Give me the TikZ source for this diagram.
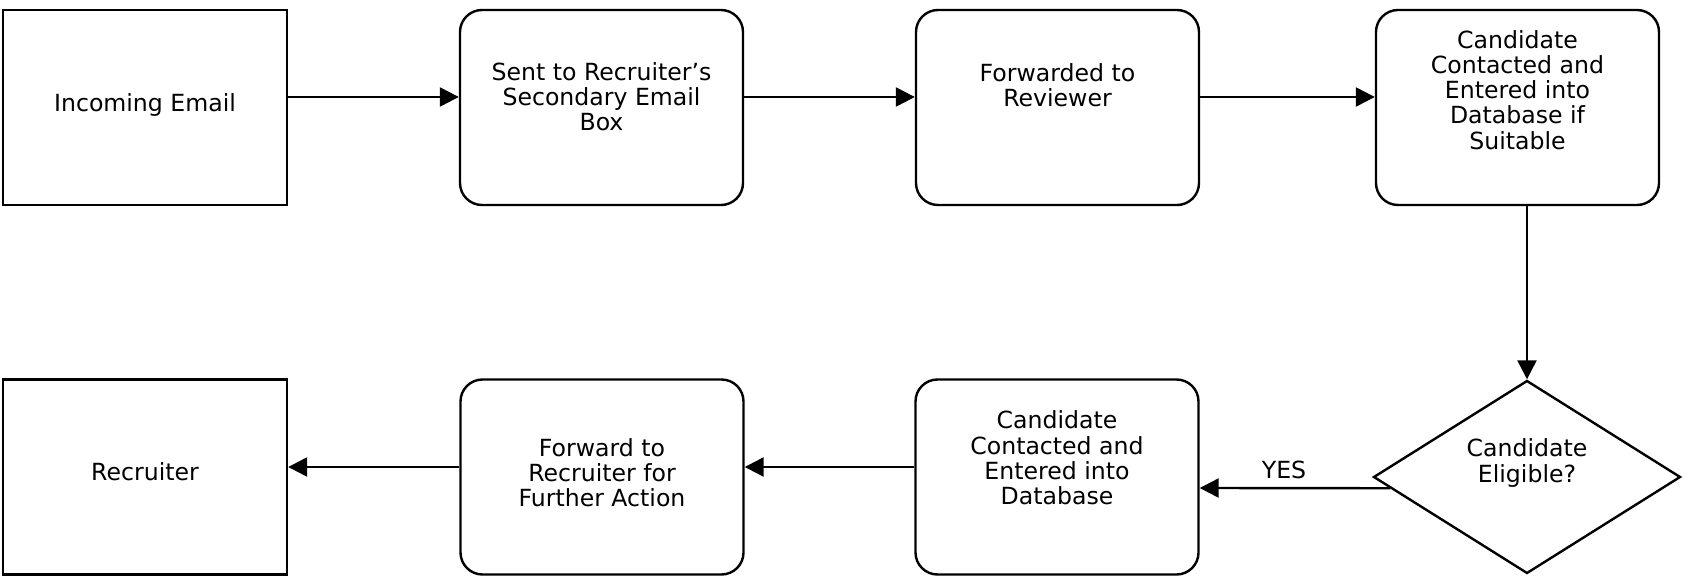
\documentclass[tikz,border=0pt]{standalone}
\usepackage{fontspec}
\setmainfont{DejaVu Sans}
\usetikzlibrary{shapes.geometric,arrows.meta,calc}
\tikzset{
  sqbox/.style={draw, line width=1.2pt, minimum width=142pt, minimum height=97.5pt, inner sep=0pt},
  rbox/.style={draw, line width=1.2pt, rounded corners=11pt, minimum width=141.5pt, minimum height=97.5pt, inner sep=0pt},
  decide/.style={draw, line width=1.2pt, diamond, minimum width=153.5pt, minimum height=96.5pt, inner sep=0pt},
  txt/.style={align=center, inner sep=0pt, font=\fontsize{11.8pt}{12.6pt}\selectfont},
  arr/.style={line width=1.2pt, -{Triangle[length=9.5pt,width=9.5pt]}},
}
\begin{document}
\begin{tikzpicture}[x=0.5pt,y=-0.5pt]
\useasboundingbox (0,0) rectangle (1693,577);
% top row
\node[sqbox] (b1) at (145,107.5) {};
\node[rbox] (b2) at (601.5,107.5) {};
\node[rbox] (b3) at (1057.5,107.5) {};
\node[rbox] (b4) at (1517.5,107.5) {};
% bottom row
\node[sqbox] (r1) at (145,477) {};
\node[rbox] (r2) at (602,477) {};
\node[rbox] (r3) at (1057,477) {};
\node[decide] (dia) at (1527,477) {};
% texts
\node[txt] (t1) at (145,105) {Incoming Email};
\node[txt] (t2) at (601.5,97) {Sent to Recruiter’s\\Secondary Email\\Box};
\node[txt] (t3) at (1057.5,85) {Forwarded to\\Reviewer};
\node[txt] (t4) at (1517.5,90) {Candidate\\Contacted and\\Entered into\\Database if\\Suitable};
\node[txt] (u1) at (145,472) {Recruiter};
\node[txt] (u2) at (602,473) {Forward to\\Recruiter for\\Further Action};
\node[txt] (u3) at (1057,458) {Candidate\\Contacted and\\Entered into\\Database};
\node[txt] (u4) at (1527,463) {Candidate\\Eligible?};
\node[txt] (yes) at (1284,470) {YES};
% connectors
\draw[arr] (b1.east |- 0,97) -- (b2.west |- 0,97);
\draw[arr] (b2.east |- 0,97) -- (b3.west |- 0,97);
\draw[arr] (b3.east |- 0,97) -- (b4.west |- 0,97);
\draw[arr] (b4.south -| dia.north) -- (dia.north);
\draw[arr] ($(dia.west)!0.115!(dia.south)$) -- (r3.east |- 0,488);
\draw[arr] (r3.west |- 0,467) -- (r2.east |- 0,467);
\draw[arr] (r2.west |- 0,467) -- (r1.east |- 0,467);
\end{tikzpicture}
\end{document}
